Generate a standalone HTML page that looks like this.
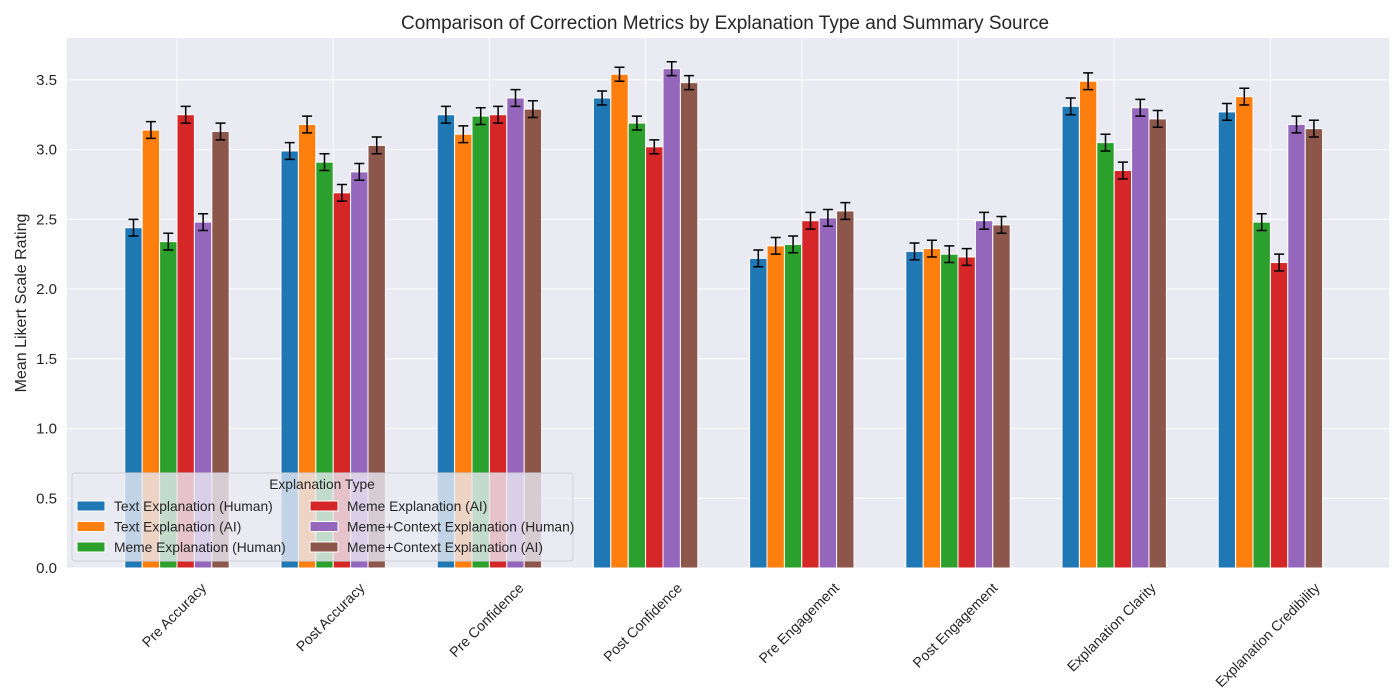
<!DOCTYPE html>
<html><head><meta charset="utf-8"><style>
html,body{margin:0;padding:0;background:#fff;}
svg{display:block;font-family:"Liberation Sans",sans-serif;}
</style></head><body>
<svg id="chart" width="1400" height="700">
<rect x="67" y="38" width="1322" height="530" fill="#eaeaf2"/>
<g id="grid"></g><g id="bars"></g><g id="xt"></g><g id="yt"></g>
<text x="725" y="29" font-size="19" text-anchor="middle" fill="#262626">Comparison of Correction Metrics by Explanation Type and Summary Source</text>
<text transform="translate(26,303) rotate(-90)" font-size="16" text-anchor="middle" fill="#262626">Mean Likert Scale Rating</text>
<g id="legend"></g>
</svg>
<script>
const categories=["Pre Accuracy","Post Accuracy","Pre Confidence","Post Confidence","Pre Engagement","Post Engagement","Explanation Clarity","Explanation Credibility"];
const seriesNames=["Text Explanation (Human)","Text Explanation (AI)","Meme Explanation (Human)","Meme Explanation (AI)","Meme+Context Explanation (Human)","Meme+Context Explanation (AI)"];
const textHuman=[2.44,2.99,3.25,3.37,2.22,2.27,3.31,3.27];
const textAI=[3.14,3.18,3.11,3.54,2.31,2.29,3.49,3.38];
const memeHuman=[2.34,2.91,3.24,3.19,2.32,2.25,3.05,2.48];
const memeAI=[3.25,2.69,3.25,3.02,2.49,2.23,2.85,2.19];
const ctxHuman=[2.48,2.84,3.37,3.58,2.51,2.49,3.30,3.18];
const ctxAI=[3.13,3.03,3.29,3.48,2.56,2.46,3.22,3.15];
const errors=[0.06,0.06,0.06,0.05,0.06,0.06,0.06,0.06];
const yTicks=[0,0.5,1,1.5,2,2.5,3,3.5];
const series=[textHuman,textAI,memeHuman,memeAI,ctxHuman,ctxAI];
const colors=["#1f77b4","#ff7f0e","#2ca02c","#d62728","#9467bd","#8c564b"];
const NS="http://www.w3.org/2000/svg";
const y=v=>568-v*(530/3.8);
const x=i=>177+i*156.2;
const bw=17.4;
function mk(tag,attrs,parent){const e=document.createElementNS(NS,tag);for(const k in attrs)e.setAttribute(k,attrs[k]);parent.appendChild(e);return e;}
const grid=document.getElementById('grid'),bars=document.getElementById('bars'),xt=document.getElementById('xt'),yt=document.getElementById('yt');
yTicks.forEach(t=>{
 const l=mk('line',{x1:67,x2:1389,y1:y(t),y2:y(t),stroke:'#fff','stroke-width':1},grid);
 
 
 const tx=mk('text',{x:57,y:y(t)+5,'font-size':15,'text-anchor':'end',fill:'#262626'},yt);
 tx.textContent=t.toFixed(1);
 
 
});
categories.forEach((c,i)=>{
 const l=mk('line',{x1:x(i),x2:x(i),y1:38,y2:568,stroke:'#fff','stroke-width':1},grid);
 
 
});
series.forEach((s,j)=>{
 s.forEach((v,i)=>{
  const bx=x(i)-3*bw+j*bw;
  const r=mk('rect',{x:bx,y:y(v),width:bw,height:568-y(v),fill:colors[j],stroke:'#fff','stroke-width':1},bars);
  
  
  const cx=bx+bw/2,e=errors[i];
  const g=mk('path',{d:`M${cx},${y(v+e)}V${y(v-e)}M${cx-5},${y(v+e)}H${cx+5}M${cx-5},${y(v-e)}H${cx+5}`,stroke:'#000','stroke-width':1.5,fill:'none'},bars);
  
  
 });
});
categories.forEach((c,i)=>{
 const t=mk('text',{'font-size':14.2,fill:'#262626','text-anchor':'end'},xt);
 t.textContent=c;
 
 
 const L=t.getComputedTextLength(),h=10.5;
 const w=(L+h)*0.7071;
 const ex=x(i)+w/2-h*0.3, ey=581+h*0.75;
 t.setAttribute('transform',`translate(${ex},${ey}) rotate(-45)`);
});
const lg=document.getElementById('legend');
mk('rect',{x:72,y:473,width:501,height:88,rx:3,fill:'#eaeaf2','fill-opacity':0.8,stroke:'#d0d0d8'},lg);
const lt=mk('text',{x:322,y:489,'font-size':13.8,'text-anchor':'middle',fill:'#262626'},lg);
lt.textContent='Explanation Type';


seriesNames.forEach((n,j)=>{
 const col=Math.floor(j/3),row=j%3;
 const px=col?310:77,py=506+row*20.5;
 const g=mk('g',{},lg);
 
 
 mk('rect',{x:px,y:py-5,width:28,height:10,fill:colors[j],stroke:'#fff'},g);
 const t=mk('text',{x:px+37,y:py+5,'font-size':13.8,fill:'#262626'},g);
 t.textContent=n;
});
</script>
</body></html>
